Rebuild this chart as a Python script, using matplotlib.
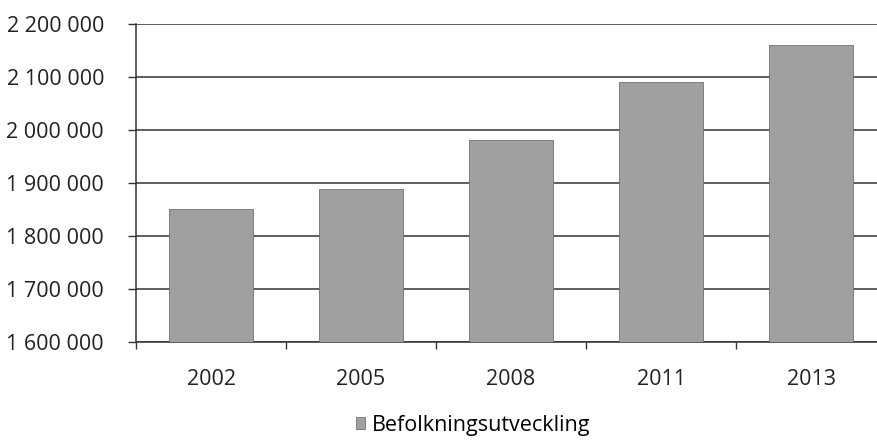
import matplotlib
matplotlib.use("Agg")
import matplotlib.pyplot as plt
from matplotlib.ticker import FuncFormatter, FixedLocator
from matplotlib.patches import Patch

years = ["2002", "2005", "2008", "2011", "2013"]
population = [1850000, 1888000, 1980000, 2090000, 2161000]
series_name = "Befolkningsutveckling"
y_ticks = [1600000, 1700000, 1800000, 1900000, 2000000, 2100000, 2200000]

plt.rcParams['font.family'] = ['Open Sans', 'DejaVu Sans']

fig = plt.figure(figsize=(8.77, 4.44), dpi=100)
ax = fig.add_axes([136/877, (444-341.7)/444, 750/877, 317.7/444])

x = list(range(len(years)))
ax.bar(x, population, width=0.56, color="#a0a0a0", edgecolor="#707070", linewidth=0.6, zorder=3)

ax.set_xlim(-0.5, len(years) - 0.5)
ax.set_ylim(y_ticks[0], y_ticks[-1])
ax.yaxis.set_major_locator(FixedLocator(y_ticks))
ax.yaxis.set_major_formatter(FuncFormatter(lambda v, p: f"{v:,.0f}".replace(",", " ")))
ax.set_xticks(x)
ax.set_xticklabels(years)
ax.set_xticks([i + 0.5 for i in range(-1, len(years))], minor=True)
ax.tick_params(axis='x', which='major', length=0, pad=20, labelsize=15.5, colors="#222222")
ax.tick_params(axis='x', which='minor', length=5, width=1, color="#333333", direction='out')
ax.tick_params(axis='y', length=6, width=1, color="#333333", labelsize=15.5, pad=17, labelcolor="#222222")

ax.grid(axis='y', color="#333333", linewidth=1.1, zorder=1)
for s in ["top", "right"]:
    ax.spines[s].set_visible(False)
ax.spines["left"].set_color("#333333")
ax.spines["bottom"].set_color("#333333")
ax.spines["left"].set_linewidth(1.1)
ax.spines["bottom"].set_linewidth(1.1)

handle = Patch(facecolor="#a0a0a0", edgecolor="#707070", linewidth=0.6)
fig.legend([handle], [series_name], loc="center", bbox_to_anchor=(473/877, 1 - 425/444),
           frameon=False, fontsize=15.5, handlelength=0.45, handleheight=0.45, handletextpad=0.3)

fig.savefig("out.png", dpi=100)
